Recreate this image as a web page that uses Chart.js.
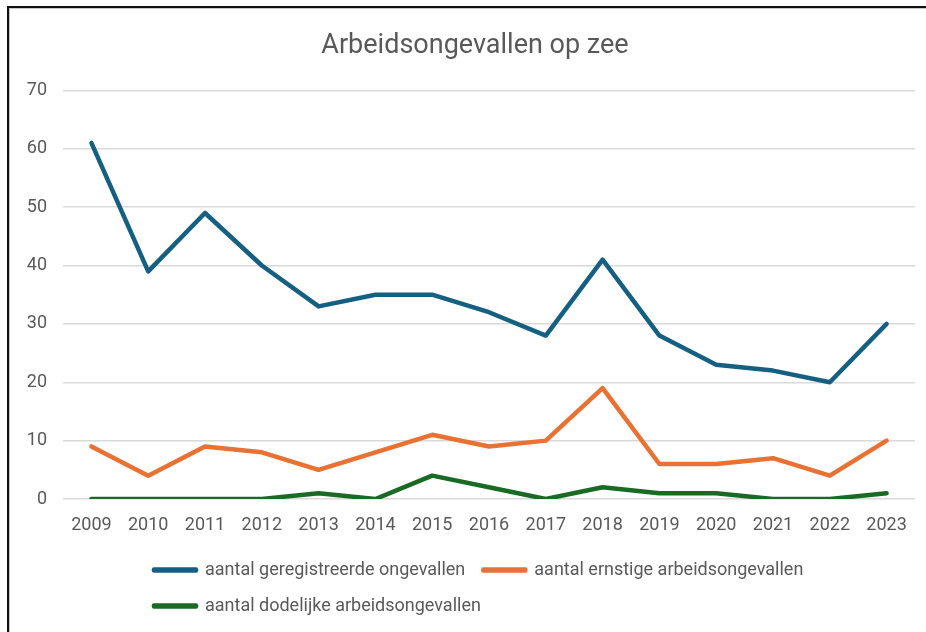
<!DOCTYPE html>
<html>
<head>
<meta charset="utf-8">
<script src="https://cdn.jsdelivr.net/npm/chart.js@4.4.1/dist/chart.umd.min.js"></script>
<style>
  html, body { margin: 0; padding: 0; background: #ffffff; }
  #frame {
    position: absolute; left: 7px; top: 6px; width: 919px; height: 626px;
    border-top: 2px solid #111; border-left: 2px solid #111;
    box-shadow: inset 1px 1px 0 #c8c8c8;
    background: #fff;
  }
  #wrap { position: absolute; left: 0; top: 0; width: 917px; height: 624px; }
</style>
</head>
<body>
<div id="frame"><div id="wrap"><canvas id="c"></canvas></div></div>
<script>
const categories = ["2009","2010","2011","2012","2013","2014","2015","2016","2017","2018","2019","2020","2021","2022","2023"];
const geregistreerd = [61, 39, 49, 40, 33, 35, 35, 32, 28, 41, 28, 23, 22, 20, 30];
const ernstig = [9, 4, 9, 8, 5, 8, 11, 9, 10, 19, 6, 6, 7, 4, 10];
const dodelijk = [0, 0, 0, 0, 1, 0, 4, 2, 0, 2, 1, 1, 0, 0, 1];
const seriesNames = ["aantal geregistreerde ongevallen", "aantal ernstige arbeidsongevallen", "aantal dodelijke arbeidsongevallen"];
const yTicks = [0, 10, 20, 30, 40, 50, 60, 70];
const titleText = "Arbeidsongevallen op zee";

const FONT = "Roboto";
const GREY = "#595959";

function ds(label, data, color) {
  return {
    label, data,
    borderColor: color, backgroundColor: color,
    borderWidth: 4.5, borderCapStyle: "round", borderJoinStyle: "round",
    pointRadius: 0, pointHoverRadius: 0, tension: 0, fill: false
  };
}

const boxShift = {
  id: "boxShift",
  afterLayout(chart) {
    if (chart.legend) {
      chart.legend.left = 127;
    }
    if (chart.titleBlock) {
      chart.titleBlock.left += 26;
    }
  }
};

new Chart(document.getElementById("c"), {
  type: "line",
  data: {
    labels: categories,
    datasets: [
      ds(seriesNames[0], geregistreerd, "#156082"),
      ds(seriesNames[1], ernstig, "#E97132"),
      ds(seriesNames[2], dodelijk, "#196B24")
    ]
  },
  options: {
    responsive: true,
    maintainAspectRatio: false,
    animation: false,
    layout: { padding: { left: 0, right: 11, top: 0, bottom: 7 } },
    plugins: {
      title: {
        display: true, text: titleText, color: GREY,
        font: { family: FONT, size: 27, weight: "normal" },
        padding: { top: 22, bottom: 28 }
      },
      legend: {
        display: true, position: "bottom", align: "start",
        labels: {
          color: GREY, font: { family: FONT, size: 18 },
          boxWidth: 42, boxHeight: 1, padding: 18
        }
      },
      tooltip: { enabled: false }
    },
    scales: {
      x: {
        offset: true,
        grid: { display: false, drawTicks: false },
        border: { display: false },
        ticks: { color: GREY, font: { family: FONT, size: 18 }, padding: 16, maxRotation: 0, autoSkip: false },
        afterFit(s) { s.height = 44; }
      },
      y: {
        min: 0, max: 70,
        afterBuildTicks(s) { s.ticks = yTicks.map(v => ({ value: v })); },
        grid: { color: "#d9d9d9", lineWidth: 1.5, drawTicks: false },
        border: { display: false },
        ticks: { color: GREY, font: { family: FONT, size: 18 }, padding: 16 },
        afterFit(s) { s.width = 54; }
      }
    }
  },
  plugins: [boxShift]
});
</script>
</body>
</html>
